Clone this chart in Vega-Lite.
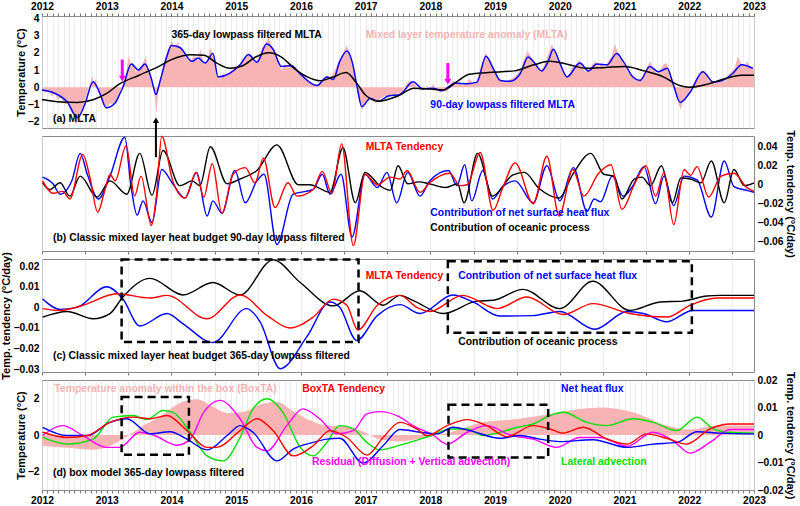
{
"$schema":"https://vega.github.io/schema/vega-lite/v6.json",
"padding":{"left":0,"right":0,"top":0,"bottom":0},
"bounds":"flush",
"spacing":8,
"config":{"font":"Liberation Sans","view":{"stroke":"#8a8a8a","strokeWidth":1},
"axis":{"labelFont":"Liberation Sans","labelFontWeight":"bold","labelFontSize":10.3,"labelColor":"#000","titleFont":"Liberation Sans","titleFontWeight":"bold","titleFontSize":11,"titleColor":"#000","domain":false,"ticks":false,"grid":false,"labelPadding":3,"titlePadding":1,"labelBound":false,"labelFlush":false}},
"datasets":{
"a_raw":[{"t":2012.0,"v":-0.1},{"t":2012.05,"v":-0.3},{"t":2012.1,"v":-0.2},{"t":2012.15,"v":-0.5},{"t":2012.2,"v":-0.4},{"t":2012.25,"v":-0.7},{"t":2012.3,"v":-0.6},{"t":2012.35,"v":-1.0},{"t":2012.4,"v":-0.9},{"t":2012.45,"v":-1.4},{"t":2012.5,"v":-1.8},{"t":2012.53,"v":-2.2},{"t":2012.56,"v":-1.6},{"t":2012.6,"v":-1.5},{"t":2012.65,"v":-0.9},{"t":2012.7,"v":-0.3},{"t":2012.75,"v":0.3},{"t":2012.78,"v":0.7},{"t":2012.8,"v":0.2},{"t":2012.83,"v":0.5},{"t":2012.87,"v":-0.2},{"t":2012.9,"v":-0.6},{"t":2012.95,"v":-1.0},{"t":2013.0,"v":-1.2},{"t":2013.05,"v":-0.9},{"t":2013.1,"v":-1.0},{"t":2013.15,"v":-0.7},{"t":2013.2,"v":-0.3},{"t":2013.25,"v":0.2},{"t":2013.3,"v":0.8},{"t":2013.34,"v":1.9},{"t":2013.37,"v":1.2},{"t":2013.4,"v":1.5},{"t":2013.45,"v":0.9},{"t":2013.5,"v":1.1},{"t":2013.55,"v":1.3},{"t":2013.6,"v":1.8},{"t":2013.63,"v":1.2},{"t":2013.67,"v":0.6},{"t":2013.72,"v":0.0},{"t":2013.75,"v":-0.8},{"t":2013.77,"v":-1.5},{"t":2013.8,"v":0.0},{"t":2013.85,"v":0.8},{"t":2013.9,"v":1.7},{"t":2013.95,"v":2.2},{"t":2014.0,"v":2.7},{"t":2014.05,"v":2.3},{"t":2014.1,"v":2.6},{"t":2014.15,"v":2.2},{"t":2014.2,"v":1.9},{"t":2014.25,"v":1.6},{"t":2014.3,"v":1.5},{"t":2014.35,"v":1.9},{"t":2014.4,"v":1.5},{"t":2014.45,"v":2.2},{"t":2014.5,"v":1.3},{"t":2014.55,"v":1.5},{"t":2014.6,"v":2.3},{"t":2014.65,"v":1.7},{"t":2014.7,"v":0.8},{"t":2014.75,"v":0.5},{"t":2014.8,"v":0.8},{"t":2014.85,"v":0.7},{"t":2014.9,"v":0.9},{"t":2014.95,"v":1.0},{"t":2015.0,"v":1.3},{"t":2015.05,"v":1.2},{"t":2015.1,"v":1.5},{"t":2015.15,"v":1.8},{"t":2015.2,"v":2.0},{"t":2015.25,"v":1.6},{"t":2015.3,"v":1.4},{"t":2015.35,"v":1.8},{"t":2015.4,"v":2.3},{"t":2015.45,"v":2.5},{"t":2015.5,"v":2.9},{"t":2015.55,"v":2.3},{"t":2015.6,"v":2.0},{"t":2015.65,"v":1.5},{"t":2015.7,"v":1.0},{"t":2015.75,"v":1.3},{"t":2015.8,"v":1.1},{"t":2015.85,"v":1.4},{"t":2015.9,"v":1.1},{"t":2015.95,"v":0.9},{"t":2016.0,"v":0.8},{"t":2016.05,"v":0.6},{"t":2016.1,"v":0.5},{"t":2016.15,"v":0.3},{"t":2016.2,"v":0.2},{"t":2016.25,"v":0.1},{"t":2016.3,"v":0.3},{"t":2016.35,"v":0.5},{"t":2016.4,"v":0.7},{"t":2016.45,"v":0.5},{"t":2016.5,"v":0.8},{"t":2016.55,"v":1.2},{"t":2016.6,"v":1.6},{"t":2016.65,"v":1.9},{"t":2016.7,"v":2.4},{"t":2016.75,"v":2.1},{"t":2016.8,"v":1.2},{"t":2016.85,"v":0.2},{"t":2016.9,"v":-0.8},{"t":2016.95,"v":-1.3},{"t":2017.0,"v":-0.9},{"t":2017.05,"v":-0.6},{"t":2017.1,"v":-0.7},{"t":2017.15,"v":-0.9},{"t":2017.2,"v":-0.8},{"t":2017.25,"v":-0.6},{"t":2017.3,"v":-0.5},{"t":2017.35,"v":-0.6},{"t":2017.4,"v":-0.4},{"t":2017.45,"v":-0.5},{"t":2017.5,"v":-0.3},{"t":2017.55,"v":-0.5},{"t":2017.6,"v":0.0},{"t":2017.65,"v":0.3},{"t":2017.7,"v":0.4},{"t":2017.75,"v":0.2},{"t":2017.8,"v":0.0},{"t":2017.85,"v":-0.2},{"t":2017.9,"v":-0.1},{"t":2017.95,"v":0.1},{"t":2018.0,"v":-0.1},{"t":2018.05,"v":0.2},{"t":2018.1,"v":-0.2},{"t":2018.15,"v":-0.3},{"t":2018.2,"v":-0.1},{"t":2018.25,"v":-0.3},{"t":2018.3,"v":0.1},{"t":2018.35,"v":0.4},{"t":2018.4,"v":0.2},{"t":2018.45,"v":0.3},{"t":2018.5,"v":0.1},{"t":2018.55,"v":0.2},{"t":2018.6,"v":0.5},{"t":2018.65,"v":0.3},{"t":2018.7,"v":0.2},{"t":2018.75,"v":0.8},{"t":2018.8,"v":1.4},{"t":2018.85,"v":2.0},{"t":2018.9,"v":1.6},{"t":2018.95,"v":1.2},{"t":2019.0,"v":0.9},{"t":2019.05,"v":0.5},{"t":2019.1,"v":0.4},{"t":2019.15,"v":0.3},{"t":2019.2,"v":0.4},{"t":2019.25,"v":0.5},{"t":2019.3,"v":0.6},{"t":2019.35,"v":0.8},{"t":2019.4,"v":1.1},{"t":2019.45,"v":1.6},{"t":2019.5,"v":2.1},{"t":2019.55,"v":1.8},{"t":2019.6,"v":1.4},{"t":2019.65,"v":1.2},{"t":2019.7,"v":0.9},{"t":2019.75,"v":1.2},{"t":2019.8,"v":1.7},{"t":2019.85,"v":2.2},{"t":2019.88,"v":2.5},{"t":2019.92,"v":2.0},{"t":2019.96,"v":1.6},{"t":2020.0,"v":1.3},{"t":2020.05,"v":0.8},{"t":2020.1,"v":0.6},{"t":2020.15,"v":0.8},{"t":2020.2,"v":1.2},{"t":2020.25,"v":1.3},{"t":2020.3,"v":1.6},{"t":2020.35,"v":1.1},{"t":2020.4,"v":0.9},{"t":2020.45,"v":1.0},{"t":2020.5,"v":1.3},{"t":2020.55,"v":1.5},{"t":2020.6,"v":1.2},{"t":2020.65,"v":1.4},{"t":2020.7,"v":1.1},{"t":2020.75,"v":1.5},{"t":2020.8,"v":1.8},{"t":2020.85,"v":2.5},{"t":2020.9,"v":2.0},{"t":2020.95,"v":1.6},{"t":2021.0,"v":1.3},{"t":2021.05,"v":0.9},{"t":2021.1,"v":0.7},{"t":2021.15,"v":0.5},{"t":2021.2,"v":0.4},{"t":2021.25,"v":0.5},{"t":2021.3,"v":0.7},{"t":2021.35,"v":1.2},{"t":2021.4,"v":1.5},{"t":2021.45,"v":1.0},{"t":2021.5,"v":0.8},{"t":2021.55,"v":1.0},{"t":2021.6,"v":1.3},{"t":2021.65,"v":1.4},{"t":2021.7,"v":0.8},{"t":2021.75,"v":0.3},{"t":2021.8,"v":-0.5},{"t":2021.85,"v":-1.1},{"t":2021.87,"v":-1.3},{"t":2021.9,"v":-0.8},{"t":2021.95,"v":-0.5},{"t":2022.0,"v":-0.3},{"t":2022.05,"v":0.1},{"t":2022.1,"v":0.4},{"t":2022.15,"v":0.7},{"t":2022.2,"v":1.0},{"t":2022.25,"v":0.8},{"t":2022.3,"v":0.4},{"t":2022.35,"v":0.3},{"t":2022.4,"v":0.2},{"t":2022.45,"v":0.4},{"t":2022.5,"v":0.5},{"t":2022.55,"v":0.3},{"t":2022.6,"v":0.7},{"t":2022.65,"v":0.9},{"t":2022.7,"v":1.1},{"t":2022.75,"v":1.8},{"t":2022.8,"v":1.4},{"t":2022.85,"v":1.2},{"t":2022.9,"v":1.5},{"t":2022.95,"v":1.1},{"t":2023.0,"v":1.1}],
"a_lines":[
{"s":"f90","t":2012.0,"v":-0.15},{"s":"f90","t":2012.15,"v":-0.27},{"s":"f90","t":2012.39,"v":-0.85},{"s":"f90","t":2012.55,"v":-1.75},{"s":"f90","t":2012.66,"v":-1.0},{"s":"f90","t":2012.79,"v":0.32},{"s":"f90","t":2012.9,"v":-0.4},{"s":"f90","t":2012.99,"v":-1.18},{"s":"f90","t":2013.13,"v":-0.9},{"s":"f90","t":2013.2,"v":-0.4},{"s":"f90","t":2013.25,"v":0.0},{"s":"f90","t":2013.38,"v":1.35},{"s":"f90","t":2013.49,"v":1.0},{"s":"f90","t":2013.59,"v":1.35},{"s":"f90","t":2013.69,"v":0.5},{"s":"f90","t":2013.76,"v":-0.42},{"s":"f90","t":2013.82,"v":0.3},{"s":"f90","t":2013.93,"v":1.8},{"s":"f90","t":2014.0,"v":2.42},{"s":"f90","t":2014.13,"v":2.3},{"s":"f90","t":2014.32,"v":1.5},{"s":"f90","t":2014.41,"v":1.7},{"s":"f90","t":2014.52,"v":1.4},{"s":"f90","t":2014.64,"v":1.95},{"s":"f90","t":2014.72,"v":0.6},{"s":"f90","t":2014.9,"v":0.8},{"s":"f90","t":2015.06,"v":1.3},{"s":"f90","t":2015.19,"v":1.9},{"s":"f90","t":2015.32,"v":1.45},{"s":"f90","t":2015.47,"v":2.5},{"s":"f90","t":2015.57,"v":2.2},{"s":"f90","t":2015.7,"v":1.2},{"s":"f90","t":2015.86,"v":1.25},{"s":"f90","t":2015.98,"v":0.8},{"s":"f90","t":2016.25,"v":0.1},{"s":"f90","t":2016.4,"v":0.6},{"s":"f90","t":2016.5,"v":0.45},{"s":"f90","t":2016.6,"v":1.5},{"s":"f90","t":2016.71,"v":2.1},{"s":"f90","t":2016.79,"v":1.5},{"s":"f90","t":2016.87,"v":0.0},{"s":"f90","t":2016.94,"v":-1.12},{"s":"f90","t":2017.07,"v":-0.65},{"s":"f90","t":2017.2,"v":-0.8},{"s":"f90","t":2017.35,"v":-0.5},{"s":"f90","t":2017.53,"v":-0.42},{"s":"f90","t":2017.73,"v":0.32},{"s":"f90","t":2017.89,"v":-0.1},{"s":"f90","t":2018.04,"v":-0.05},{"s":"f90","t":2018.18,"v":-0.2},{"s":"f90","t":2018.27,"v":0.0},{"s":"f90","t":2018.38,"v":0.25},{"s":"f90","t":2018.57,"v":0.2},{"s":"f90","t":2018.72,"v":0.3},{"s":"f90","t":2018.86,"v":1.8},{"s":"f90","t":2018.97,"v":1.1},{"s":"f90","t":2019.08,"v":0.4},{"s":"f90","t":2019.23,"v":0.35},{"s":"f90","t":2019.39,"v":0.8},{"s":"f90","t":2019.51,"v":1.75},{"s":"f90","t":2019.59,"v":1.5},{"s":"f90","t":2019.72,"v":0.95},{"s":"f90","t":2019.82,"v":1.5},{"s":"f90","t":2019.9,"v":2.2},{"s":"f90","t":2019.99,"v":1.5},{"s":"f90","t":2020.11,"v":0.6},{"s":"f90","t":2020.31,"v":1.4},{"s":"f90","t":2020.44,"v":0.95},{"s":"f90","t":2020.57,"v":1.35},{"s":"f90","t":2020.73,"v":1.3},{"s":"f90","t":2020.88,"v":1.95},{"s":"f90","t":2020.98,"v":1.5},{"s":"f90","t":2021.13,"v":0.6},{"s":"f90","t":2021.24,"v":0.4},{"s":"f90","t":2021.39,"v":1.2},{"s":"f90","t":2021.52,"v":0.9},{"s":"f90","t":2021.66,"v":1.1},{"s":"f90","t":2021.75,"v":0.2},{"s":"f90","t":2021.86,"v":-0.88},{"s":"f90","t":2022.01,"v":-0.3},{"s":"f90","t":2022.21,"v":0.9},{"s":"f90","t":2022.37,"v":0.3},{"s":"f90","t":2022.52,"v":0.4},{"s":"f90","t":2022.67,"v":0.8},{"s":"f90","t":2022.81,"v":1.3},{"s":"f90","t":2022.98,"v":1.1},
{"s":"f365","t":2012.0,"v":-0.7},{"s":"f365","t":2012.3,"v":-0.85},{"s":"f365","t":2012.55,"v":-0.87},{"s":"f365","t":2012.8,"v":-0.7},{"s":"f365","t":2013.0,"v":-0.35},{"s":"f365","t":2013.2,"v":0.2},{"s":"f365","t":2013.5,"v":0.7},{"s":"f365","t":2013.8,"v":1.2},{"s":"f365","t":2014.0,"v":1.6},{"s":"f365","t":2014.3,"v":1.88},{"s":"f365","t":2014.5,"v":1.85},{"s":"f365","t":2014.7,"v":1.4},{"s":"f365","t":2014.9,"v":1.1},{"s":"f365","t":2015.1,"v":1.25},{"s":"f365","t":2015.3,"v":1.75},{"s":"f365","t":2015.5,"v":2.0},{"s":"f365","t":2015.7,"v":1.75},{"s":"f365","t":2015.9,"v":1.08},{"s":"f365","t":2016.1,"v":0.6},{"s":"f365","t":2016.3,"v":0.38},{"s":"f365","t":2016.5,"v":0.6},{"s":"f365","t":2016.7,"v":0.85},{"s":"f365","t":2016.85,"v":0.3},{"s":"f365","t":2017.0,"v":-0.46},{"s":"f365","t":2017.2,"v":-0.8},{"s":"f365","t":2017.5,"v":-0.5},{"s":"f365","t":2017.75,"v":-0.05},{"s":"f365","t":2018.0,"v":-0.1},{"s":"f365","t":2018.2,"v":-0.15},{"s":"f365","t":2018.4,"v":0.3},{"s":"f365","t":2018.6,"v":0.75},{"s":"f365","t":2018.9,"v":0.85},{"s":"f365","t":2019.3,"v":0.95},{"s":"f365","t":2019.6,"v":1.3},{"s":"f365","t":2019.85,"v":1.5},{"s":"f365","t":2020.1,"v":1.35},{"s":"f365","t":2020.4,"v":1.1},{"s":"f365","t":2020.7,"v":1.15},{"s":"f365","t":2021.0,"v":1.2},{"s":"f365","t":2021.3,"v":0.95},{"s":"f365","t":2021.6,"v":0.6},{"s":"f365","t":2021.85,"v":0.1},{"s":"f365","t":2022.0,"v":0.0},{"s":"f365","t":2022.3,"v":0.2},{"s":"f365","t":2022.6,"v":0.55},{"s":"f365","t":2022.8,"v":0.7},{"s":"f365","t":2023.0,"v":0.7}],
"b_lines":[
{"s":"tend","t":2012.01,"v":0.004},{"s":"tend","t":2012.17,"v":-0.009},{"s":"tend","t":2012.32,"v":-0.007},{"s":"tend","t":2012.43,"v":-0.015},{"s":"tend","t":2012.63,"v":0.032},{"s":"tend","t":2012.74,"v":0.008},{"s":"tend","t":2012.86,"v":-0.029},{"s":"tend","t":2012.97,"v":-0.006},{"s":"tend","t":2013.05,"v":0.011},{"s":"tend","t":2013.13,"v":0.004},{"s":"tend","t":2013.3,"v":0.041},{"s":"tend","t":2013.43,"v":-0.012},{"s":"tend","t":2013.53,"v":0.009},{"s":"tend","t":2013.69,"v":-0.043},{"s":"tend","t":2013.77,"v":-0.01},{"s":"tend","t":2013.85,"v":0.051},{"s":"tend","t":2014.02,"v":0.004},{"s":"tend","t":2014.21,"v":-0.014},{"s":"tend","t":2014.38,"v":0.013},{"s":"tend","t":2014.5,"v":-0.013},{"s":"tend","t":2014.63,"v":0.022},{"s":"tend","t":2014.78,"v":-0.03},{"s":"tend","t":2014.95,"v":0.011},{"s":"tend","t":2015.14,"v":0.018},{"s":"tend","t":2015.29,"v":0.002},{"s":"tend","t":2015.42,"v":0.028},{"s":"tend","t":2015.6,"v":-0.024},{"s":"tend","t":2015.8,"v":0.002},{"s":"tend","t":2015.94,"v":-0.012},{"s":"tend","t":2016.19,"v":-0.005},{"s":"tend","t":2016.33,"v":0.014},{"s":"tend","t":2016.48,"v":-0.009},{"s":"tend","t":2016.63,"v":0.043},{"s":"tend","t":2016.81,"v":-0.064},{"s":"tend","t":2016.99,"v":0.011},{"s":"tend","t":2017.18,"v":0.0},{"s":"tend","t":2017.38,"v":0.008},{"s":"tend","t":2017.53,"v":0.006},{"s":"tend","t":2017.64,"v":0.015},{"s":"tend","t":2017.84,"v":-0.008},{"s":"tend","t":2017.99,"v":0.002},{"s":"tend","t":2018.3,"v":0.012},{"s":"tend","t":2018.46,"v":-0.001},{"s":"tend","t":2018.57,"v":0.0},{"s":"tend","t":2018.77,"v":0.034},{"s":"tend","t":2018.97,"v":-0.027},{"s":"tend","t":2019.12,"v":-0.003},{"s":"tend","t":2019.31,"v":0.023},{"s":"tend","t":2019.59,"v":-0.02},{"s":"tend","t":2019.8,"v":0.03},{"s":"tend","t":2019.99,"v":-0.033},{"s":"tend","t":2020.2,"v":0.016},{"s":"tend","t":2020.37,"v":-0.012},{"s":"tend","t":2020.6,"v":0.012},{"s":"tend","t":2020.79,"v":0.021},{"s":"tend","t":2020.96,"v":-0.026},{"s":"tend","t":2021.15,"v":0.0},{"s":"tend","t":2021.33,"v":0.02},{"s":"tend","t":2021.48,"v":-0.012},{"s":"tend","t":2021.61,"v":0.013},{"s":"tend","t":2021.76,"v":-0.042},{"s":"tend","t":2021.92,"v":0.016},{"s":"tend","t":2022.02,"v":0.01},{"s":"tend","t":2022.12,"v":0.019},{"s":"tend","t":2022.3,"v":-0.013},{"s":"tend","t":2022.49,"v":0.009},{"s":"tend","t":2022.69,"v":0.012},{"s":"tend","t":2022.89,"v":-0.003},{"s":"tend","t":2023.0,"v":-0.007},
{"s":"flux","t":2012.01,"v":0.008},{"s":"flux","t":2012.17,"v":0.001},{"s":"flux","t":2012.28,"v":-0.01},{"s":"flux","t":2012.46,"v":0.004},{"s":"flux","t":2012.59,"v":0.033},{"s":"flux","t":2012.7,"v":0.011},{"s":"flux","t":2012.87,"v":-0.015},{"s":"flux","t":2013.05,"v":0.009},{"s":"flux","t":2013.28,"v":0.05},{"s":"flux","t":2013.37,"v":0.001},{"s":"flux","t":2013.47,"v":-0.032},{"s":"flux","t":2013.56,"v":-0.017},{"s":"flux","t":2013.7,"v":-0.04},{"s":"flux","t":2013.85,"v":0.016},{"s":"flux","t":2014.02,"v":0.001},{"s":"flux","t":2014.21,"v":-0.014},{"s":"flux","t":2014.39,"v":0.013},{"s":"flux","t":2014.55,"v":-0.033},{"s":"flux","t":2014.64,"v":-0.017},{"s":"flux","t":2014.78,"v":-0.03},{"s":"flux","t":2014.98,"v":0.015},{"s":"flux","t":2015.14,"v":-0.019},{"s":"flux","t":2015.32,"v":0.004},{"s":"flux","t":2015.43,"v":0.011},{"s":"flux","t":2015.63,"v":-0.063},{"s":"flux","t":2015.88,"v":-0.01},{"s":"flux","t":2016.19,"v":-0.005},{"s":"flux","t":2016.33,"v":0.011},{"s":"flux","t":2016.45,"v":-0.01},{"s":"flux","t":2016.62,"v":0.011},{"s":"flux","t":2016.79,"v":-0.055},{"s":"flux","t":2016.99,"v":0.011},{"s":"flux","t":2017.18,"v":-0.003},{"s":"flux","t":2017.33,"v":0.013},{"s":"flux","t":2017.48,"v":-0.019},{"s":"flux","t":2017.65,"v":0.013},{"s":"flux","t":2017.84,"v":-0.012},{"s":"flux","t":2017.99,"v":0.004},{"s":"flux","t":2018.28,"v":0.015},{"s":"flux","t":2018.41,"v":-0.001},{"s":"flux","t":2018.53,"v":0.021},{"s":"flux","t":2018.64,"v":-0.017},{"s":"flux","t":2018.81,"v":0.015},{"s":"flux","t":2018.96,"v":-0.015},{"s":"flux","t":2019.12,"v":-0.002},{"s":"flux","t":2019.31,"v":0.004},{"s":"flux","t":2019.59,"v":-0.019},{"s":"flux","t":2019.8,"v":0.02},{"s":"flux","t":2020.0,"v":-0.017},{"s":"flux","t":2020.21,"v":0.018},{"s":"flux","t":2020.42,"v":-0.028},{"s":"flux","t":2020.53,"v":-0.015},{"s":"flux","t":2020.63,"v":-0.018},{"s":"flux","t":2020.81,"v":0.009},{"s":"flux","t":2020.98,"v":-0.012},{"s":"flux","t":2021.12,"v":-0.002},{"s":"flux","t":2021.3,"v":0.019},{"s":"flux","t":2021.48,"v":-0.02},{"s":"flux","t":2021.61,"v":0.009},{"s":"flux","t":2021.76,"v":-0.022},{"s":"flux","t":2021.92,"v":0.009},{"s":"flux","t":2022.12,"v":0.005},{"s":"flux","t":2022.34,"v":-0.034},{"s":"flux","t":2022.54,"v":0.025},{"s":"flux","t":2022.69,"v":-0.002},{"s":"flux","t":2022.89,"v":-0.006},{"s":"flux","t":2023.0,"v":-0.008},
{"s":"ocean","t":2012.01,"v":0.002},{"s":"ocean","t":2012.12,"v":-0.005},{"s":"ocean","t":2012.28,"v":0.002},{"s":"ocean","t":2012.43,"v":-0.012},{"s":"ocean","t":2012.59,"v":0.009},{"s":"ocean","t":2012.85,"v":-0.013},{"s":"ocean","t":2013.05,"v":0.004},{"s":"ocean","t":2013.31,"v":-0.01},{"s":"ocean","t":2013.51,"v":0.033},{"s":"ocean","t":2013.7,"v":-0.011},{"s":"ocean","t":2013.87,"v":0.036},{"s":"ocean","t":2014.13,"v":-0.001},{"s":"ocean","t":2014.32,"v":0.004},{"s":"ocean","t":2014.44,"v":-0.001},{"s":"ocean","t":2014.6,"v":0.04},{"s":"ocean","t":2014.86,"v":0.001},{"s":"ocean","t":2015.06,"v":0.006},{"s":"ocean","t":2015.32,"v":0.015},{"s":"ocean","t":2015.63,"v":0.042},{"s":"ocean","t":2015.96,"v":0.0},{"s":"ocean","t":2016.14,"v":0.0},{"s":"ocean","t":2016.45,"v":-0.008},{"s":"ocean","t":2016.65,"v":0.039},{"s":"ocean","t":2016.84,"v":-0.019},{"s":"ocean","t":2016.99,"v":0.013},{"s":"ocean","t":2017.22,"v":-0.001},{"s":"ocean","t":2017.38,"v":-0.006},{"s":"ocean","t":2017.5,"v":0.02},{"s":"ocean","t":2017.65,"v":0.001},{"s":"ocean","t":2017.82,"v":0.003},{"s":"ocean","t":2017.98,"v":0.001},{"s":"ocean","t":2018.24,"v":-0.003},{"s":"ocean","t":2018.42,"v":0.001},{"s":"ocean","t":2018.52,"v":-0.019},{"s":"ocean","t":2018.73,"v":0.033},{"s":"ocean","t":2018.96,"v":-0.012},{"s":"ocean","t":2019.27,"v":0.01},{"s":"ocean","t":2019.45,"v":0.013},{"s":"ocean","t":2019.68,"v":-0.004},{"s":"ocean","t":2019.99,"v":-0.014},{"s":"ocean","t":2020.2,"v":0.011},{"s":"ocean","t":2020.48,"v":0.033},{"s":"ocean","t":2020.68,"v":0.011},{"s":"ocean","t":2020.84,"v":0.009},{"s":"ocean","t":2020.96,"v":-0.015},{"s":"ocean","t":2021.15,"v":0.006},{"s":"ocean","t":2021.27,"v":0.008},{"s":"ocean","t":2021.4,"v":-0.001},{"s":"ocean","t":2021.57,"v":0.02},{"s":"ocean","t":2021.74,"v":-0.019},{"s":"ocean","t":2021.87,"v":0.007},{"s":"ocean","t":2022.02,"v":0.006},{"s":"ocean","t":2022.18,"v":0.002},{"s":"ocean","t":2022.34,"v":0.025},{"s":"ocean","t":2022.54,"v":-0.019},{"s":"ocean","t":2022.69,"v":0.016},{"s":"ocean","t":2022.85,"v":-0.001},{"s":"ocean","t":2023.0,"v":0.002}],
"c_lines":[
{"s":"ocean","t":2012.01,"v":-0.0047},{"s":"ocean","t":2012.39,"v":-0.002},{"s":"ocean","t":2012.79,"v":-0.0055},{"s":"ocean","t":2013.05,"v":-0.003},{"s":"ocean","t":2013.25,"v":0.005},{"s":"ocean","t":2013.67,"v":0.014},{"s":"ocean","t":2014.18,"v":0.006},{"s":"ocean","t":2014.64,"v":0.012},{"s":"ocean","t":2015.06,"v":0.006},{"s":"ocean","t":2015.57,"v":0.023},{"s":"ocean","t":2015.99,"v":0.012},{"s":"ocean","t":2016.5,"v":0.0007},{"s":"ocean","t":2016.91,"v":0.008},{"s":"ocean","t":2017.27,"v":0.001},{"s":"ocean","t":2017.53,"v":0.0058},{"s":"ocean","t":2017.73,"v":0.0034},{"s":"ocean","t":2018.2,"v":-0.003},{"s":"ocean","t":2018.72,"v":0.003},{"s":"ocean","t":2018.97,"v":0.0034},{"s":"ocean","t":2019.43,"v":0.0087},{"s":"ocean","t":2020.0,"v":-0.0006},{"s":"ocean","t":2020.51,"v":0.0126},{"s":"ocean","t":2021.08,"v":-0.0015},{"s":"ocean","t":2021.55,"v":0.0026},{"s":"ocean","t":2021.9,"v":0.003},{"s":"ocean","t":2022.27,"v":0.0055},{"s":"ocean","t":2022.47,"v":0.0058},{"s":"ocean","t":2023.0,"v":0.0058},
{"s":"tend","t":2012.01,"v":-0.0006},{"s":"tend","t":2012.28,"v":-0.0015},{"s":"tend","t":2012.63,"v":0.001},{"s":"tend","t":2013.16,"v":0.0066},{"s":"tend","t":2013.67,"v":0.0045},{"s":"tend","t":2013.93,"v":0.0058},{"s":"tend","t":2014.55,"v":-0.0055},{"s":"tend","t":2015.06,"v":0.006},{"s":"tend","t":2015.48,"v":-0.004},{"s":"tend","t":2015.83,"v":-0.01},{"s":"tend","t":2016.19,"v":-0.0047},{"s":"tend","t":2016.5,"v":0.004},{"s":"tend","t":2016.71,"v":0.001},{"s":"tend","t":2016.88,"v":-0.011},{"s":"tend","t":2017.18,"v":0.001},{"s":"tend","t":2017.53,"v":0.0058},{"s":"tend","t":2017.79,"v":0.0},{"s":"tend","t":2017.99,"v":-0.002},{"s":"tend","t":2018.5,"v":0.0058},{"s":"tend","t":2019.03,"v":-0.0006},{"s":"tend","t":2019.49,"v":0.005},{"s":"tend","t":2020.05,"v":-0.0035},{"s":"tend","t":2020.51,"v":0.0018},{"s":"tend","t":2021.08,"v":-0.003},{"s":"tend","t":2021.66,"v":-0.0047},{"s":"tend","t":2022.01,"v":0.001},{"s":"tend","t":2022.43,"v":0.0045},{"s":"tend","t":2023.0,"v":0.0045},
{"s":"flux","t":2012.01,"v":0.004},{"s":"flux","t":2012.28,"v":-0.001},{"s":"flux","t":2012.54,"v":0.0},{"s":"flux","t":2013.0,"v":0.01},{"s":"flux","t":2013.25,"v":0.004},{"s":"flux","t":2013.51,"v":-0.009},{"s":"flux","t":2013.93,"v":-0.003},{"s":"flux","t":2014.18,"v":-0.008},{"s":"flux","t":2014.64,"v":-0.017},{"s":"flux","t":2015.16,"v":-0.0006},{"s":"flux","t":2015.37,"v":-0.007},{"s":"flux","t":2015.68,"v":-0.0297},{"s":"flux","t":2016.09,"v":-0.0143},{"s":"flux","t":2016.45,"v":0.0026},{"s":"flux","t":2016.6,"v":0.0},{"s":"flux","t":2016.86,"v":-0.016},{"s":"flux","t":2017.18,"v":-0.004},{"s":"flux","t":2017.53,"v":0.0013},{"s":"flux","t":2017.84,"v":-0.003},{"s":"flux","t":2018.35,"v":0.006},{"s":"flux","t":2018.66,"v":0.0026},{"s":"flux","t":2019.07,"v":-0.0042},{"s":"flux","t":2019.58,"v":-0.004},{"s":"flux","t":2020.0,"v":-0.002},{"s":"flux","t":2020.54,"v":-0.0106},{"s":"flux","t":2021.04,"v":-0.002},{"s":"flux","t":2021.29,"v":-0.003},{"s":"flux","t":2021.65,"v":-0.007},{"s":"flux","t":2022.05,"v":-0.0015},{"s":"flux","t":2022.27,"v":-0.0015},{"s":"flux","t":2023.0,"v":-0.0015}],
"d_box":[{"t":2012.0,"v":-0.58},{"t":2012.39,"v":-0.7},{"t":2012.79,"v":-0.8},{"t":2013.05,"v":-0.6},{"t":2013.31,"v":-0.1},{"t":2013.56,"v":0.5},{"t":2013.82,"v":1.0},{"t":2014.13,"v":1.75},{"t":2014.39,"v":1.95},{"t":2014.64,"v":1.55},{"t":2014.86,"v":1.2},{"t":2015.1,"v":1.25},{"t":2015.41,"v":1.7},{"t":2015.63,"v":1.8},{"t":2015.88,"v":1.3},{"t":2016.14,"v":0.8},{"t":2016.4,"v":0.5},{"t":2016.71,"v":0.45},{"t":2017.02,"v":0.1},{"t":2017.22,"v":-0.25},{"t":2017.53,"v":-0.35},{"t":2017.75,"v":-0.25},{"t":2018.0,"v":-0.05},{"t":2018.3,"v":0.14},{"t":2018.81,"v":0.69},{"t":2019.34,"v":0.87},{"t":2019.85,"v":1.15},{"t":2020.31,"v":1.42},{"t":2020.62,"v":1.5},{"t":2021.13,"v":1.24},{"t":2021.65,"v":0.52},{"t":2022.01,"v":0.3},{"t":2022.43,"v":0.52},{"t":2023.0,"v":0.52}],
"d_lines":[
{"s":"lat","t":2012.01,"v":-0.0009},{"s":"lat","t":2012.39,"v":-0.0033},{"s":"lat","t":2012.79,"v":-0.0015},{"s":"lat","t":2013.1,"v":0.0065},{"s":"lat","t":2013.41,"v":0.0071},{"s":"lat","t":2013.62,"v":0.0056},{"s":"lat","t":2013.87,"v":0.0089},{"s":"lat","t":2014.02,"v":0.0083},{"s":"lat","t":2014.29,"v":0.001},{"s":"lat","t":2014.55,"v":-0.0076},{"s":"lat","t":2014.8,"v":-0.0094},{"s":"lat","t":2015.06,"v":-0.0009},{"s":"lat","t":2015.26,"v":0.0095},{"s":"lat","t":2015.48,"v":0.0132},{"s":"lat","t":2015.72,"v":0.0083},{"s":"lat","t":2015.99,"v":-0.0045},{"s":"lat","t":2016.19,"v":-0.0076},{"s":"lat","t":2016.4,"v":-0.0027},{"s":"lat","t":2016.6,"v":0.0034},{"s":"lat","t":2016.81,"v":0.0022},{"s":"lat","t":2017.02,"v":-0.0027},{"s":"lat","t":2017.22,"v":-0.0054},{"s":"lat","t":2017.53,"v":-0.0037},{"s":"lat","t":2017.84,"v":-0.0015},{"s":"lat","t":2018.04,"v":0.0},{"s":"lat","t":2018.3,"v":0.0022},{"s":"lat","t":2018.57,"v":0.0022},{"s":"lat","t":2018.81,"v":-0.0002},{"s":"lat","t":2019.08,"v":0.001},{"s":"lat","t":2019.34,"v":0.0028},{"s":"lat","t":2019.59,"v":0.004},{"s":"lat","t":2019.85,"v":0.0071},{"s":"lat","t":2020.05,"v":0.0083},{"s":"lat","t":2020.42,"v":0.0046},{"s":"lat","t":2020.73,"v":0.0034},{"s":"lat","t":2021.13,"v":0.0059},{"s":"lat","t":2021.44,"v":0.0046},{"s":"lat","t":2021.81,"v":0.0016},{"s":"lat","t":2022.12,"v":0.0065},{"s":"lat","t":2022.37,"v":0.0022},{"s":"lat","t":2022.58,"v":0.001},{"s":"lat","t":2023.0,"v":0.0007},
{"s":"resid","t":2012.01,"v":-0.0002},{"s":"resid","t":2012.32,"v":0.0034},{"s":"resid","t":2012.63,"v":-0.0002},{"s":"resid","t":2013.0,"v":-0.0045},{"s":"resid","t":2013.2,"v":-0.0045},{"s":"resid","t":2013.51,"v":0.001},{"s":"resid","t":2013.72,"v":0.0},{"s":"resid","t":2014.09,"v":-0.0037},{"s":"resid","t":2014.29,"v":-0.0015},{"s":"resid","t":2014.5,"v":0.0083},{"s":"resid","t":2014.75,"v":0.0126},{"s":"resid","t":2015.06,"v":0.0059},{"s":"resid","t":2015.32,"v":-0.0045},{"s":"resid","t":2015.48,"v":-0.0057},{"s":"resid","t":2015.78,"v":0.0034},{"s":"resid","t":2016.03,"v":0.0095},{"s":"resid","t":2016.29,"v":0.0059},{"s":"resid","t":2016.55,"v":0.0004},{"s":"resid","t":2016.81,"v":0.0016},{"s":"resid","t":2017.02,"v":0.0077},{"s":"resid","t":2017.22,"v":0.0085},{"s":"resid","t":2017.53,"v":0.0065},{"s":"resid","t":2017.73,"v":0.0034},{"s":"resid","t":2018.04,"v":0.0},{"s":"resid","t":2018.26,"v":-0.0033},{"s":"resid","t":2018.57,"v":0.001},{"s":"resid","t":2018.87,"v":0.0034},{"s":"resid","t":2019.23,"v":0.0},{"s":"resid","t":2019.59,"v":-0.0015},{"s":"resid","t":2019.95,"v":-0.0045},{"s":"resid","t":2020.31,"v":-0.0009},{"s":"resid","t":2020.62,"v":-0.0009},{"s":"resid","t":2021.04,"v":-0.0041},{"s":"resid","t":2021.44,"v":0.001},{"s":"resid","t":2021.75,"v":-0.0021},{"s":"resid","t":2022.01,"v":-0.0066},{"s":"resid","t":2022.32,"v":-0.0027},{"s":"resid","t":2022.63,"v":0.002},{"s":"resid","t":2023.0,"v":0.002},
{"s":"flux","t":2012.01,"v":0.0028},{"s":"flux","t":2012.39,"v":-0.0002},{"s":"flux","t":2012.7,"v":-0.0002},{"s":"flux","t":2013.05,"v":0.0046},{"s":"flux","t":2013.31,"v":0.0059},{"s":"flux","t":2013.67,"v":0.0004},{"s":"flux","t":2013.98,"v":0.0012},{"s":"flux","t":2014.24,"v":-0.0015},{"s":"flux","t":2014.55,"v":-0.0054},{"s":"flux","t":2014.86,"v":-0.0002},{"s":"flux","t":2015.06,"v":0.0034},{"s":"flux","t":2015.26,"v":0.001},{"s":"flux","t":2015.63,"v":-0.0094},{"s":"flux","t":2015.88,"v":-0.0051},{"s":"flux","t":2016.19,"v":-0.0027},{"s":"flux","t":2016.4,"v":-0.0015},{"s":"flux","t":2016.6,"v":-0.0012},{"s":"flux","t":2016.96,"v":-0.0102},{"s":"flux","t":2017.27,"v":-0.0039},{"s":"flux","t":2017.53,"v":0.002},{"s":"flux","t":2017.84,"v":0.001},{"s":"flux","t":2018.1,"v":0.0004},{"s":"flux","t":2018.35,"v":0.0028},{"s":"flux","t":2018.61,"v":0.0016},{"s":"flux","t":2019.08,"v":-0.0012},{"s":"flux","t":2019.38,"v":-0.0002},{"s":"flux","t":2019.69,"v":-0.0015},{"s":"flux","t":2020.0,"v":-0.0024},{"s":"flux","t":2020.51,"v":-0.0017},{"s":"flux","t":2021.04,"v":-0.0045},{"s":"flux","t":2021.44,"v":-0.0033},{"s":"flux","t":2021.81,"v":-0.0027},{"s":"flux","t":2022.12,"v":0.0012},{"s":"flux","t":2022.47,"v":0.0007},{"s":"flux","t":2023.0,"v":0.0004},
{"s":"tend","t":2012.01,"v":0.001},{"s":"tend","t":2012.39,"v":-0.0009},{"s":"tend","t":2012.7,"v":-0.0002},{"s":"tend","t":2013.05,"v":0.0046},{"s":"tend","t":2013.41,"v":0.0065},{"s":"tend","t":2013.67,"v":0.0059},{"s":"tend","t":2013.93,"v":0.0071},{"s":"tend","t":2014.24,"v":0.0016},{"s":"tend","t":2014.55,"v":-0.0045},{"s":"tend","t":2014.7,"v":-0.0045},{"s":"tend","t":2015.06,"v":0.0016},{"s":"tend","t":2015.32,"v":0.0059},{"s":"tend","t":2015.57,"v":0.0016},{"s":"tend","t":2015.88,"v":-0.0076},{"s":"tend","t":2016.19,"v":-0.0039},{"s":"tend","t":2016.45,"v":0.0016},{"s":"tend","t":2016.71,"v":-0.0009},{"s":"tend","t":2017.02,"v":-0.0073},{"s":"tend","t":2017.27,"v":-0.0009},{"s":"tend","t":2017.53,"v":0.0046},{"s":"tend","t":2017.79,"v":0.0022},{"s":"tend","t":2017.95,"v":-0.0002},{"s":"tend","t":2018.26,"v":0.0034},{"s":"tend","t":2018.57,"v":0.0056},{"s":"tend","t":2018.87,"v":0.0034},{"s":"tend","t":2019.18,"v":-0.0006},{"s":"tend","t":2019.59,"v":0.0034},{"s":"tend","t":2019.85,"v":0.0022},{"s":"tend","t":2020.05,"v":0.0007},{"s":"tend","t":2020.36,"v":0.0028},{"s":"tend","t":2020.73,"v":-0.0015},{"s":"tend","t":2021.04,"v":-0.0033},{"s":"tend","t":2021.34,"v":0.0004},{"s":"tend","t":2021.65,"v":-0.0012},{"s":"tend","t":2021.96,"v":-0.0033},{"s":"tend","t":2022.32,"v":0.0022},{"s":"tend","t":2022.63,"v":0.004},{"s":"tend","t":2023.0,"v":0.004}],
"boxes":[{"p":"c","t1":2013.23,"t2":2016.89,"v1":0.0232,"v2":-0.0168},{"p":"c","t1":2018.27,"t2":2022.04,"v1":0.0223,"v2":-0.0123},{"p":"d","t1":2013.23,"t2":2014.27,"v1":0.0138,"v2":-0.0072},{"p":"d","t1":2018.28,"t2":2019.82,"v1":0.011,"v2":-0.0082}],
"arrows":[{"p":"a","t":2013.24,"v1":1.6,"v2":0.5,"s":"resid"},{"p":"a","t":2018.27,"v1":1.4,"v2":0.32,"s":"resid"},{"p":"b","t":2013.76,"v1":0.029,"v2":0.068,"s":"lab"}],
"labels":[
{"p":"a","t":2014.0,"v":3.0,"s":"lab","txt":"365-day lowpass filtered MLTA"},
{"p":"a","t":2017.0,"v":3.0,"s":"pinktxt","txt":"Mixed layer temperature anomaly (MLTA)"},
{"p":"a","t":2018.0,"v":-1.04,"s":"f90","txt":"90-day lowpass filtered MLTA"},
{"p":"a","t":2012.17,"v":-1.85,"s":"lab","txt":"(a) MLTA"},
{"p":"b","t":2017.0,"v":0.0397,"s":"tend","txt":"MLTA Tendency"},
{"p":"b","t":2018.0,"v":-0.0303,"s":"flux","txt":"Contribution of net surface heat flux"},
{"p":"b","t":2018.0,"v":-0.0456,"s":"lab","txt":"Contribution of oceanic process"},
{"p":"b","t":2012.17,"v":-0.0556,"s":"lab","txt":"(b) Classic mixed layer heat budget 90-day lowpass filtered"},
{"p":"c","t":2017.0,"v":0.0151,"s":"tend","txt":"MLTA Tendency"},
{"p":"c","t":2018.43,"v":0.0151,"s":"flux","txt":"Contribution of net surface heat flux"},
{"p":"c","t":2018.43,"v":-0.0166,"s":"lab","txt":"Contribution of oceanic process"},
{"p":"c","t":2012.17,"v":-0.0236,"s":"lab","txt":"(c) Classic mixed layer heat budget 365-day lowpass filtered"},
{"p":"d","t":2012.19,"v":0.0168,"s":"pinktxt","txt":"Temperature anomaly within the box (BoxTA)"},
{"p":"d","t":2016.02,"v":0.0168,"s":"tend","txt":"BoxTA Tendency"},
{"p":"d","t":2020.02,"v":0.0168,"s":"flux","txt":"Net heat flux"},
{"p":"d","t":2016.17,"v":-0.0097,"s":"resid","txt":"Residual (Diffusion + Vertical advection)"},
{"p":"d","t":2020.02,"v":-0.0097,"s":"lat","txt":"Lateral advection"},
{"p":"d","t":2012.17,"v":-0.0137,"s":"lab","txt":"(d) box model 365-day lowpass filtered"}]
},
"vconcat":[
{"width":712,"height":112,
"resolve":{"axis":{"x":"independent","y":"independent"}},
"layer":[
{"data":{"name":"a_raw"},"mark":{"type":"area","color":"#F8B4B4","interpolate":"linear"},
"encoding":{"x":{"field":"t","type":"quantitative","title":null,"scale":{"domain":[2012,2023],"nice":false,"zero":false},"axis":{"orient":"top","values":[2012,2012.0833,2012.1667,2012.25,2012.3333,2012.4167,2012.5,2012.5833,2012.6667,2012.75,2012.8333,2012.9167,2013,2013.0833,2013.1667,2013.25,2013.3333,2013.4167,2013.5,2013.5833,2013.6667,2013.75,2013.8333,2013.9167,2014,2014.0833,2014.1667,2014.25,2014.3333,2014.4167,2014.5,2014.5833,2014.6667,2014.75,2014.8333,2014.9167,2015,2015.0833,2015.1667,2015.25,2015.3333,2015.4167,2015.5,2015.5833,2015.6667,2015.75,2015.8333,2015.9167,2016,2016.0833,2016.1667,2016.25,2016.3333,2016.4167,2016.5,2016.5833,2016.6667,2016.75,2016.8333,2016.9167,2017,2017.0833,2017.1667,2017.25,2017.3333,2017.4167,2017.5,2017.5833,2017.6667,2017.75,2017.8333,2017.9167,2018,2018.0833,2018.1667,2018.25,2018.3333,2018.4167,2018.5,2018.5833,2018.6667,2018.75,2018.8333,2018.9167,2019,2019.0833,2019.1667,2019.25,2019.3333,2019.4167,2019.5,2019.5833,2019.6667,2019.75,2019.8333,2019.9167,2020,2020.0833,2020.1667,2020.25,2020.3333,2020.4167,2020.5,2020.5833,2020.6667,2020.75,2020.8333,2020.9167,2021,2021.0833,2021.1667,2021.25,2021.3333,2021.4167,2021.5,2021.5833,2021.6667,2021.75,2021.8333,2021.9167,2022,2022.0833,2022.1667,2022.25,2022.3333,2022.4167,2022.5,2022.5833,2022.6667,2022.75,2022.8333,2022.9167,2023],"labels":false,"grid":true,"gridColor":"#e3e3e3","gridWidth":0.7,"ticks":true,"tickSize":3,"tickColor":"#777"}},
"y":{"field":"v","type":"quantitative","scale":{"domain":[-2.35,4.12],"nice":false,"zero":false},"axis":{"orient":"left","values":[-2,1,4],"title":"Temperature (°C)"}},
"y2":{"datum":0}}},
{"data":{"name":"a_lines"},"transform":[{"filter":"datum.s === 'f90'"}],"mark":{"type":"line","interpolate":"monotone","strokeWidth":1.5,"color":"#0000FF"},
"encoding":{"x":{"field":"t","type":"quantitative","title":null,"scale":{"domain":[2012,2023],"nice":false,"zero":false},"axis":{"orient":"top","values":[2012,2013,2014,2015,2016,2017,2018,2019,2020,2021,2022,2023],"format":"d","labelPadding":5,"grid":false,"ticks":false}},"y":{"field":"v","type":"quantitative","scale":{"domain":[-2.35,4.12],"nice":false,"zero":false},"axis":{"orient":"left","values":[-1,2],"title":null}}}},
{"data":{"name":"a_lines"},"transform":[{"filter":"datum.s === 'f365'"}],"mark":{"type":"line","interpolate":"monotone","strokeWidth":1.5,"color":"#000000"},
"encoding":{"x":{"field":"t","type":"quantitative","title":null,"axis":null,"scale":{"domain":[2012,2023],"nice":false,"zero":false}},"y":{"field":"v","type":"quantitative","scale":{"domain":[-2.35,4.12],"nice":false,"zero":false},"axis":{"orient":"left","values":[0,3],"title":null}}}},
{"data":{"name":"arrows"},"transform":[{"filter":"datum.p === 'a'"}],"mark":{"type":"rule","strokeWidth":3,"color":"#FF00FF"},
"encoding":{"x":{"field":"t","type":"quantitative","title":null,"axis":null,"scale":{"domain":[2012,2023],"nice":false,"zero":false}},"y":{"field":"v1","type":"quantitative","axis":null,"scale":{"domain":[-2.35,4.12],"nice":false,"zero":false}},"y2":{"field":"v2"}}},
{"data":{"name":"arrows"},"transform":[{"filter":"datum.p === 'a'"}],"mark":{"type":"point","shape":"triangle-down","filled":true,"size":45,"opacity":1,"color":"#FF00FF"},
"encoding":{"x":{"field":"t","type":"quantitative","title":null,"axis":null,"scale":{"domain":[2012,2023],"nice":false,"zero":false}},"y":{"field":"v2","type":"quantitative","axis":null,"scale":{"domain":[-2.35,4.12],"nice":false,"zero":false}}}},
{"data":{"name":"labels"},"transform":[{"filter":"datum.p === 'a'"}],"mark":{"type":"text","align":"left","baseline":"middle","fontWeight":"bold","fontSize":10.4,"font":"Liberation Sans"},
"encoding":{"x":{"field":"t","type":"quantitative","title":null,"axis":null,"scale":{"domain":[2012,2023],"nice":false,"zero":false}},"y":{"field":"v","type":"quantitative","axis":null,"scale":{"domain":[-2.35,4.12],"nice":false,"zero":false}},"text":{"field":"txt"},
"color":{"field":"s","type":"nominal","legend":null,"scale":{"domain":["tend","flux","ocean","f90","f365","resid","lat","lab","pinktxt"],"range":["#FF0000","#0000FF","#000000","#0000FF","#000000","#FF00FF","#00E000","#000000","#F5B3B3"]}}}}
]},
{"width":712,"height":115,
"resolve":{"axis":{"y":"independent"}},
"layer":[
{"data":{"name":"b_lines"},"transform":[{"filter":"datum.s !== 'tend'"}],"mark":{"type":"line","interpolate":"monotone","strokeWidth":1.4},
"encoding":{"x":{"field":"t","type":"quantitative","title":null,"scale":{"domain":[2012,2023],"nice":false,"zero":false},"axis":{"orient":"bottom","values":[2012,2012.0833,2012.1667,2012.25,2012.3333,2012.4167,2012.5,2012.5833,2012.6667,2012.75,2012.8333,2012.9167,2013,2013.0833,2013.1667,2013.25,2013.3333,2013.4167,2013.5,2013.5833,2013.6667,2013.75,2013.8333,2013.9167,2014,2014.0833,2014.1667,2014.25,2014.3333,2014.4167,2014.5,2014.5833,2014.6667,2014.75,2014.8333,2014.9167,2015,2015.0833,2015.1667,2015.25,2015.3333,2015.4167,2015.5,2015.5833,2015.6667,2015.75,2015.8333,2015.9167,2016,2016.0833,2016.1667,2016.25,2016.3333,2016.4167,2016.5,2016.5833,2016.6667,2016.75,2016.8333,2016.9167,2017,2017.0833,2017.1667,2017.25,2017.3333,2017.4167,2017.5,2017.5833,2017.6667,2017.75,2017.8333,2017.9167,2018,2018.0833,2018.1667,2018.25,2018.3333,2018.4167,2018.5,2018.5833,2018.6667,2018.75,2018.8333,2018.9167,2019,2019.0833,2019.1667,2019.25,2019.3333,2019.4167,2019.5,2019.5833,2019.6667,2019.75,2019.8333,2019.9167,2020,2020.0833,2020.1667,2020.25,2020.3333,2020.4167,2020.5,2020.5833,2020.6667,2020.75,2020.8333,2020.9167,2021,2021.0833,2021.1667,2021.25,2021.3333,2021.4167,2021.5,2021.5833,2021.6667,2021.75,2021.8333,2021.9167,2022,2022.0833,2022.1667,2022.25,2022.3333,2022.4167,2022.5,2022.5833,2022.6667,2022.75,2022.8333,2022.9167,2023],"labels":false,"grid":true,"gridColor":"#e3e3e3","gridWidth":0.7,"ticks":true,"tickSize":3,"tickColor":"#777"}},
"y":{"field":"v","type":"quantitative","scale":{"domain":[-0.0698,0.0513],"nice":false,"zero":false},"axis":{"orient":"right","values":[-0.06,-0.02,0.02],"format":"~g","title":"Temp. tendency (°C/day)"}},
"color":{"field":"s","type":"nominal","legend":null,"scale":{"domain":["tend","flux","ocean","f90","f365","resid","lat","lab","pinktxt"],"range":["#FF0000","#0000FF","#000000","#0000FF","#000000","#FF00FF","#00E000","#000000","#F5B3B3"]}}}},
{"data":{"name":"b_lines"},"transform":[{"filter":"datum.s === 'tend'"}],"mark":{"type":"line","interpolate":"monotone","strokeWidth":1.4,"color":"#FF0000"},
"encoding":{"x":{"field":"t","type":"quantitative","title":null,"scale":{"domain":[2012,2023],"nice":false,"zero":false}},
"y":{"field":"v","type":"quantitative","scale":{"domain":[-0.0698,0.0513],"nice":false,"zero":false},"axis":{"orient":"right","values":[-0.04,0,0.04],"format":"~g","title":null}}}},
{"data":{"name":"arrows"},"transform":[{"filter":"datum.p === 'b'"}],"mark":{"type":"rule","strokeWidth":2,"color":"#000"},
"encoding":{"x":{"field":"t","type":"quantitative","title":null,"scale":{"domain":[2012,2023],"nice":false,"zero":false}},"y":{"field":"v1","type":"quantitative","axis":null,"scale":{"domain":[-0.0698,0.0513],"nice":false,"zero":false}},"y2":{"field":"v2"}}},
{"data":{"name":"arrows"},"transform":[{"filter":"datum.p === 'b'"}],"mark":{"type":"point","shape":"triangle-up","filled":true,"size":40,"opacity":1,"color":"#000"},
"encoding":{"x":{"field":"t","type":"quantitative","title":null,"scale":{"domain":[2012,2023],"nice":false,"zero":false}},"y":{"field":"v2","type":"quantitative","axis":null,"scale":{"domain":[-0.0698,0.0513],"nice":false,"zero":false}}}},
{"data":{"name":"labels"},"transform":[{"filter":"datum.p === 'b'"}],"mark":{"type":"text","align":"left","baseline":"middle","fontWeight":"bold","fontSize":10.4,"font":"Liberation Sans"},
"encoding":{"x":{"field":"t","type":"quantitative","title":null,"scale":{"domain":[2012,2023],"nice":false,"zero":false}},"y":{"field":"v","type":"quantitative","axis":null,"scale":{"domain":[-0.0698,0.0513],"nice":false,"zero":false}},"text":{"field":"txt"},
"color":{"field":"s","type":"nominal","legend":null,"scale":{"domain":["tend","flux","ocean","f90","f365","resid","lat","lab","pinktxt"],"range":["#FF0000","#0000FF","#000000","#0000FF","#000000","#FF00FF","#00E000","#000000","#F5B3B3"]}}}}
]},
{"width":712,"height":113,
"resolve":{"axis":{"y":"independent"}},
"layer":[
{"data":{"name":"c_lines"},"transform":[{"filter":"datum.s !== 'tend'"}],"mark":{"type":"line","interpolate":"monotone","strokeWidth":1.4},
"encoding":{"x":{"field":"t","type":"quantitative","title":null,"scale":{"domain":[2012,2023],"nice":false,"zero":false},"axis":{"orient":"bottom","values":[2012,2012.0833,2012.1667,2012.25,2012.3333,2012.4167,2012.5,2012.5833,2012.6667,2012.75,2012.8333,2012.9167,2013,2013.0833,2013.1667,2013.25,2013.3333,2013.4167,2013.5,2013.5833,2013.6667,2013.75,2013.8333,2013.9167,2014,2014.0833,2014.1667,2014.25,2014.3333,2014.4167,2014.5,2014.5833,2014.6667,2014.75,2014.8333,2014.9167,2015,2015.0833,2015.1667,2015.25,2015.3333,2015.4167,2015.5,2015.5833,2015.6667,2015.75,2015.8333,2015.9167,2016,2016.0833,2016.1667,2016.25,2016.3333,2016.4167,2016.5,2016.5833,2016.6667,2016.75,2016.8333,2016.9167,2017,2017.0833,2017.1667,2017.25,2017.3333,2017.4167,2017.5,2017.5833,2017.6667,2017.75,2017.8333,2017.9167,2018,2018.0833,2018.1667,2018.25,2018.3333,2018.4167,2018.5,2018.5833,2018.6667,2018.75,2018.8333,2018.9167,2019,2019.0833,2019.1667,2019.25,2019.3333,2019.4167,2019.5,2019.5833,2019.6667,2019.75,2019.8333,2019.9167,2020,2020.0833,2020.1667,2020.25,2020.3333,2020.4167,2020.5,2020.5833,2020.6667,2020.75,2020.8333,2020.9167,2021,2021.0833,2021.1667,2021.25,2021.3333,2021.4167,2021.5,2021.5833,2021.6667,2021.75,2021.8333,2021.9167,2022,2022.0833,2022.1667,2022.25,2022.3333,2022.4167,2022.5,2022.5833,2022.6667,2022.75,2022.8333,2022.9167,2023],"labels":false,"grid":true,"gridColor":"#e3e3e3","gridWidth":0.7,"ticks":true,"tickSize":3,"tickColor":"#777"}},
"y":{"field":"v","type":"quantitative","scale":{"domain":[-0.0313,0.0234],"nice":false,"zero":false},"axis":{"orient":"left","values":[-0.03,-0.01,0.01],"format":"~g","title":"Temp. tendency (°C/day)"}},
"color":{"field":"s","type":"nominal","legend":null,"scale":{"domain":["tend","flux","ocean","f90","f365","resid","lat","lab","pinktxt"],"range":["#FF0000","#0000FF","#000000","#0000FF","#000000","#FF00FF","#00E000","#000000","#F5B3B3"]}}}},
{"data":{"name":"c_lines"},"transform":[{"filter":"datum.s === 'tend'"}],"mark":{"type":"line","interpolate":"monotone","strokeWidth":1.4,"color":"#FF0000"},
"encoding":{"x":{"field":"t","type":"quantitative","title":null,"scale":{"domain":[2012,2023],"nice":false,"zero":false}},
"y":{"field":"v","type":"quantitative","scale":{"domain":[-0.0313,0.0234],"nice":false,"zero":false},"axis":{"orient":"left","values":[-0.02,0,0.02],"format":"~g","title":null}}}},
{"data":{"name":"boxes"},"transform":[{"filter":"datum.p === 'c'"}],"mark":{"type":"rect","fillOpacity":0,"stroke":"#000","strokeWidth":2.5,"strokeDash":[8,5]},
"encoding":{"x":{"field":"t1","type":"quantitative","title":null,"scale":{"domain":[2012,2023],"nice":false,"zero":false}},"x2":{"field":"t2"},"y":{"field":"v1","type":"quantitative","axis":null,"scale":{"domain":[-0.0313,0.0234],"nice":false,"zero":false}},"y2":{"field":"v2"}}},
{"data":{"name":"labels"},"transform":[{"filter":"datum.p === 'c'"}],"mark":{"type":"text","align":"left","baseline":"middle","fontWeight":"bold","fontSize":10.4,"font":"Liberation Sans"},
"encoding":{"x":{"field":"t","type":"quantitative","title":null,"scale":{"domain":[2012,2023],"nice":false,"zero":false}},"y":{"field":"v","type":"quantitative","axis":null,"scale":{"domain":[-0.0313,0.0234],"nice":false,"zero":false}},"text":{"field":"txt"},
"color":{"field":"s","type":"nominal","legend":null,"scale":{"domain":["tend","flux","ocean","f90","f365","resid","lat","lab","pinktxt"],"range":["#FF0000","#0000FF","#000000","#0000FF","#000000","#FF00FF","#00E000","#000000","#F5B3B3"]}}}}
]},
{"width":712,"height":110,
"resolve":{"scale":{"y":"independent"},"axis":{"x":"independent"}},
"layer":[
{"data":{"name":"d_box"},"mark":{"type":"area","color":"#F8B4B4","interpolate":"monotone"},
"encoding":{"x":{"field":"t","type":"quantitative","title":null,"scale":{"domain":[2012,2023],"nice":false,"zero":false},"axis":{"orient":"bottom","values":[2012,2012.0833,2012.1667,2012.25,2012.3333,2012.4167,2012.5,2012.5833,2012.6667,2012.75,2012.8333,2012.9167,2013,2013.0833,2013.1667,2013.25,2013.3333,2013.4167,2013.5,2013.5833,2013.6667,2013.75,2013.8333,2013.9167,2014,2014.0833,2014.1667,2014.25,2014.3333,2014.4167,2014.5,2014.5833,2014.6667,2014.75,2014.8333,2014.9167,2015,2015.0833,2015.1667,2015.25,2015.3333,2015.4167,2015.5,2015.5833,2015.6667,2015.75,2015.8333,2015.9167,2016,2016.0833,2016.1667,2016.25,2016.3333,2016.4167,2016.5,2016.5833,2016.6667,2016.75,2016.8333,2016.9167,2017,2017.0833,2017.1667,2017.25,2017.3333,2017.4167,2017.5,2017.5833,2017.6667,2017.75,2017.8333,2017.9167,2018,2018.0833,2018.1667,2018.25,2018.3333,2018.4167,2018.5,2018.5833,2018.6667,2018.75,2018.8333,2018.9167,2019,2019.0833,2019.1667,2019.25,2019.3333,2019.4167,2019.5,2019.5833,2019.6667,2019.75,2019.8333,2019.9167,2020,2020.0833,2020.1667,2020.25,2020.3333,2020.4167,2020.5,2020.5833,2020.6667,2020.75,2020.8333,2020.9167,2021,2021.0833,2021.1667,2021.25,2021.3333,2021.4167,2021.5,2021.5833,2021.6667,2021.75,2021.8333,2021.9167,2022,2022.0833,2022.1667,2022.25,2022.3333,2022.4167,2022.5,2022.5833,2022.6667,2022.75,2022.8333,2022.9167,2023],"labels":false,"grid":true,"gridColor":"#e3e3e3","gridWidth":0.7,"ticks":true,"tickSize":3,"tickColor":"#777"}},
"y":{"field":"v","type":"quantitative","scale":{"domain":[-3,3],"nice":false,"zero":false},"axis":{"orient":"left","values":[-2,0,2],"title":"Temperature (°C)"}},
"y2":{"datum":0}}},
{"resolve":{"axis":{"y":"independent"}},
"layer":[
{"data":{"name":"d_lines"},"transform":[{"filter":"datum.s === 'lat' || datum.s === 'resid'"}],"mark":{"type":"line","interpolate":"monotone","strokeWidth":1.4},
"encoding":{"x":{"field":"t","type":"quantitative","title":null,"scale":{"domain":[2012,2023],"nice":false,"zero":false},"axis":{"orient":"bottom","values":[2012,2013,2014,2015,2016,2017,2018,2019,2020,2021,2022,2023],"format":"d","labelPadding":5,"grid":false,"ticks":false}},
"y":{"field":"v","type":"quantitative","scale":{"domain":[-0.02,0.02],"nice":false,"zero":false},"axis":{"orient":"right","values":[-0.02,0,0.02],"format":"~g","title":"Temp. tendency (°C/day)"}},
"color":{"field":"s","type":"nominal","legend":null,"scale":{"domain":["tend","flux","ocean","f90","f365","resid","lat","lab","pinktxt"],"range":["#FF0000","#0000FF","#000000","#0000FF","#000000","#FF00FF","#00E000","#000000","#F5B3B3"]}}}},
{"data":{"name":"d_lines"},"transform":[{"filter":"datum.s === 'flux' || datum.s === 'tend'"}],"mark":{"type":"line","interpolate":"monotone","strokeWidth":1.4},
"encoding":{"x":{"field":"t","type":"quantitative","title":null,"scale":{"domain":[2012,2023],"nice":false,"zero":false}},
"y":{"field":"v","type":"quantitative","scale":{"domain":[-0.02,0.02],"nice":false,"zero":false},"axis":{"orient":"right","values":[-0.01,0.01],"format":"~g","title":null}},
"color":{"field":"s","type":"nominal","legend":null,"scale":{"domain":["tend","flux","ocean","f90","f365","resid","lat","lab","pinktxt"],"range":["#FF0000","#0000FF","#000000","#0000FF","#000000","#FF00FF","#00E000","#000000","#F5B3B3"]}}}},
{"data":{"name":"boxes"},"transform":[{"filter":"datum.p === 'd'"}],"mark":{"type":"rect","fillOpacity":0,"stroke":"#000","strokeWidth":2.5,"strokeDash":[8,5]},
"encoding":{"x":{"field":"t1","type":"quantitative","title":null,"scale":{"domain":[2012,2023],"nice":false,"zero":false}},"x2":{"field":"t2"},"y":{"field":"v1","type":"quantitative","axis":null,"scale":{"domain":[-0.02,0.02],"nice":false,"zero":false}},"y2":{"field":"v2"}}},
{"data":{"name":"labels"},"transform":[{"filter":"datum.p === 'd'"}],"mark":{"type":"text","align":"left","baseline":"middle","fontWeight":"bold","fontSize":10.4,"font":"Liberation Sans"},
"encoding":{"x":{"field":"t","type":"quantitative","title":null,"scale":{"domain":[2012,2023],"nice":false,"zero":false}},"y":{"field":"v","type":"quantitative","axis":null,"scale":{"domain":[-0.02,0.02],"nice":false,"zero":false}},"text":{"field":"txt"},
"color":{"field":"s","type":"nominal","legend":null,"scale":{"domain":["tend","flux","ocean","f90","f365","resid","lat","lab","pinktxt"],"range":["#FF0000","#0000FF","#000000","#0000FF","#000000","#FF00FF","#00E000","#000000","#F5B3B3"]}}}}
]}
]}
]
}
